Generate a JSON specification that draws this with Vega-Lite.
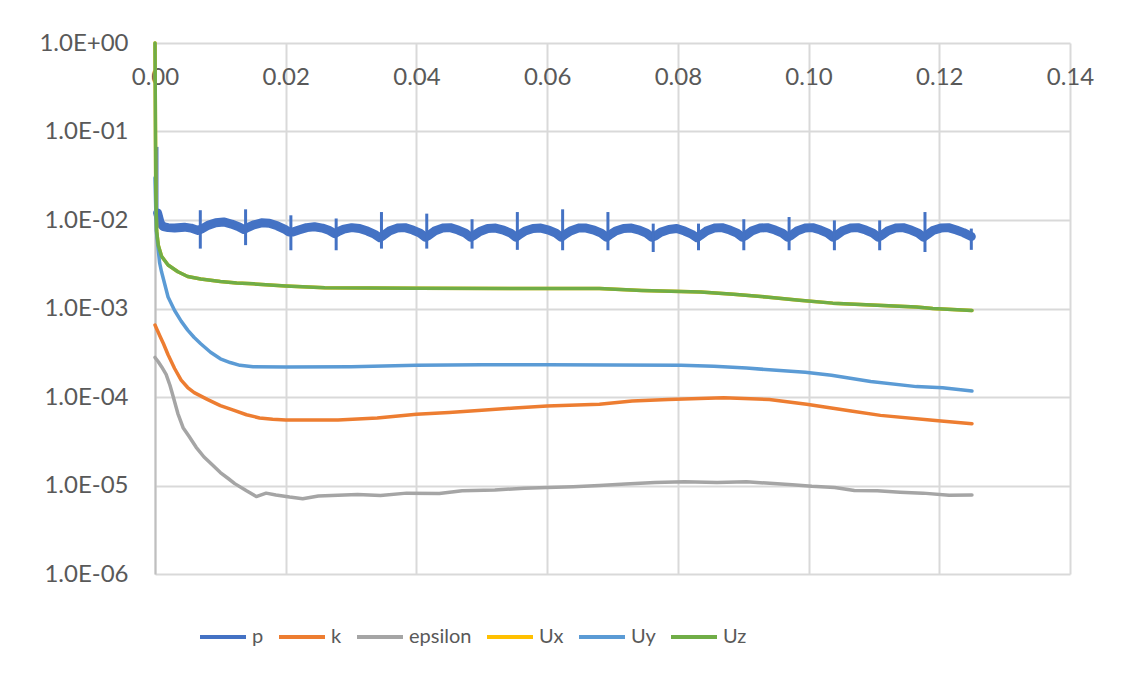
{
  "$schema": "https://vega.github.io/schema/vega-lite/v6.json",
  "width": 915,
  "height": 531,
  "autosize": {"type": "none"},
  "padding": {"left": 155, "top": 43, "right": 58, "bottom": 103},
  "background": "white",
  "config": {
    "view": {"stroke": null},
    "font": "Lato",
    "axis": {"gridColor": "#D9D9D9", "gridWidth": 2, "labelColor": "#595959", "labelFontSize": 24, "labelFont": "Lato"}
  },
  "datasets": {
    "pspikes": [
      {"s": "p", "t": 0.0003, "v": 0.067, "v2": 0.0095},
      {"s": "p", "t": 0.00693, "v": 0.0129, "v2": 0.00475},
      {"s": "p", "t": 0.01386, "v": 0.0132, "v2": 0.0052},
      {"s": "p", "t": 0.02079, "v": 0.0113, "v2": 0.00455},
      {"s": "p", "t": 0.02772, "v": 0.0104, "v2": 0.00455},
      {"s": "p", "t": 0.03465, "v": 0.0123, "v2": 0.00475},
      {"s": "p", "t": 0.04158, "v": 0.0118, "v2": 0.00475},
      {"s": "p", "t": 0.04851, "v": 0.0102, "v2": 0.00475},
      {"s": "p", "t": 0.05544, "v": 0.0123, "v2": 0.0046},
      {"s": "p", "t": 0.06237, "v": 0.0132, "v2": 0.00455},
      {"s": "p", "t": 0.0693, "v": 0.0123, "v2": 0.00455},
      {"s": "p", "t": 0.07623, "v": 0.0091, "v2": 0.00435},
      {"s": "p", "t": 0.08316, "v": 0.0091, "v2": 0.00455},
      {"s": "p", "t": 0.09009, "v": 0.0102, "v2": 0.00455},
      {"s": "p", "t": 0.09702, "v": 0.0108, "v2": 0.00455},
      {"s": "p", "t": 0.10395, "v": 0.0099, "v2": 0.00455},
      {"s": "p", "t": 0.11088, "v": 0.0099, "v2": 0.00455},
      {"s": "p", "t": 0.11781, "v": 0.0123, "v2": 0.00435},
      {"s": "p", "t": 0.1249, "v": 0.008, "v2": 0.0046}
    ],
    "pband": [
      {"s": "p", "t": 0.0004, "v": 0.012},
      {"s": "p", "t": 0.0008, "v": 0.0092},
      {"s": "p", "t": 0.0013, "v": 0.0084},
      {"s": "p", "t": 0.002, "v": 0.0082},
      {"s": "p", "t": 0.003, "v": 0.0081},
      {"s": "p", "t": 0.0045, "v": 0.0083},
      {"s": "p", "t": 0.0055, "v": 0.0081},
      {"s": "p", "t": 0.0066, "v": 0.0076},
      {"s": "p", "t": 0.00723, "v": 0.008},
      {"s": "p", "t": 0.0081, "v": 0.0087},
      {"s": "p", "t": 0.0093, "v": 0.0093},
      {"s": "p", "t": 0.0105, "v": 0.0095},
      {"s": "p", "t": 0.0117, "v": 0.009},
      {"s": "p", "t": 0.0128, "v": 0.0084},
      {"s": "p", "t": 0.0136, "v": 0.0078},
      {"s": "p", "t": 0.01416, "v": 0.0082},
      {"s": "p", "t": 0.0151, "v": 0.0088},
      {"s": "p", "t": 0.0163, "v": 0.0093},
      {"s": "p", "t": 0.0175, "v": 0.0092},
      {"s": "p", "t": 0.0187, "v": 0.0086},
      {"s": "p", "t": 0.0198, "v": 0.0079},
      {"s": "p", "t": 0.0205, "v": 0.0073},
      {"s": "p", "t": 0.02109, "v": 0.0073},
      {"s": "p", "t": 0.022, "v": 0.0077},
      {"s": "p", "t": 0.0232, "v": 0.0082},
      {"s": "p", "t": 0.0244, "v": 0.0084},
      {"s": "p", "t": 0.0256, "v": 0.0081},
      {"s": "p", "t": 0.0267, "v": 0.0076},
      {"s": "p", "t": 0.0275, "v": 0.007},
      {"s": "p", "t": 0.02802, "v": 0.0074},
      {"s": "p", "t": 0.0289, "v": 0.0079},
      {"s": "p", "t": 0.0301, "v": 0.0082},
      {"s": "p", "t": 0.0313, "v": 0.008},
      {"s": "p", "t": 0.0325, "v": 0.0075},
      {"s": "p", "t": 0.0336, "v": 0.0069},
      {"s": "p", "t": 0.0344, "v": 0.0063},
      {"s": "p", "t": 0.03495, "v": 0.0067},
      {"s": "p", "t": 0.03585, "v": 0.0075},
      {"s": "p", "t": 0.03705, "v": 0.0081},
      {"s": "p", "t": 0.03825, "v": 0.0082},
      {"s": "p", "t": 0.03945, "v": 0.0077},
      {"s": "p", "t": 0.04055, "v": 0.0071},
      {"s": "p", "t": 0.04135, "v": 0.0064},
      {"s": "p", "t": 0.04188, "v": 0.0067},
      {"s": "p", "t": 0.04278, "v": 0.0075},
      {"s": "p", "t": 0.04398, "v": 0.0081},
      {"s": "p", "t": 0.04518, "v": 0.0082},
      {"s": "p", "t": 0.04638, "v": 0.0077},
      {"s": "p", "t": 0.04748, "v": 0.0071},
      {"s": "p", "t": 0.04828, "v": 0.0064},
      {"s": "p", "t": 0.04881, "v": 0.0067},
      {"s": "p", "t": 0.04971, "v": 0.0074},
      {"s": "p", "t": 0.05091, "v": 0.008},
      {"s": "p", "t": 0.05211, "v": 0.0081},
      {"s": "p", "t": 0.05331, "v": 0.0077},
      {"s": "p", "t": 0.05441, "v": 0.0071},
      {"s": "p", "t": 0.05521, "v": 0.0064},
      {"s": "p", "t": 0.05574, "v": 0.0068},
      {"s": "p", "t": 0.05664, "v": 0.0075},
      {"s": "p", "t": 0.05784, "v": 0.008},
      {"s": "p", "t": 0.05904, "v": 0.0081},
      {"s": "p", "t": 0.06024, "v": 0.0077},
      {"s": "p", "t": 0.06134, "v": 0.0071},
      {"s": "p", "t": 0.06214, "v": 0.0064},
      {"s": "p", "t": 0.06267, "v": 0.0068},
      {"s": "p", "t": 0.06357, "v": 0.0075},
      {"s": "p", "t": 0.06477, "v": 0.0081},
      {"s": "p", "t": 0.06597, "v": 0.0081},
      {"s": "p", "t": 0.06717, "v": 0.0077},
      {"s": "p", "t": 0.06827, "v": 0.0071},
      {"s": "p", "t": 0.06907, "v": 0.0064},
      {"s": "p", "t": 0.0696, "v": 0.0068},
      {"s": "p", "t": 0.0705, "v": 0.0075},
      {"s": "p", "t": 0.0717, "v": 0.008},
      {"s": "p", "t": 0.0729, "v": 0.0081},
      {"s": "p", "t": 0.0741, "v": 0.0077},
      {"s": "p", "t": 0.0752, "v": 0.0071},
      {"s": "p", "t": 0.076, "v": 0.0064},
      {"s": "p", "t": 0.07653, "v": 0.0066},
      {"s": "p", "t": 0.07743, "v": 0.0073},
      {"s": "p", "t": 0.07863, "v": 0.0078},
      {"s": "p", "t": 0.07983, "v": 0.008},
      {"s": "p", "t": 0.08103, "v": 0.0075},
      {"s": "p", "t": 0.08213, "v": 0.0069},
      {"s": "p", "t": 0.08293, "v": 0.0063},
      {"s": "p", "t": 0.08346, "v": 0.0067},
      {"s": "p", "t": 0.08436, "v": 0.0075},
      {"s": "p", "t": 0.08556, "v": 0.0081},
      {"s": "p", "t": 0.08676, "v": 0.0082},
      {"s": "p", "t": 0.08796, "v": 0.0077},
      {"s": "p", "t": 0.08906, "v": 0.0071},
      {"s": "p", "t": 0.08986, "v": 0.0064},
      {"s": "p", "t": 0.09039, "v": 0.0067},
      {"s": "p", "t": 0.09129, "v": 0.0075},
      {"s": "p", "t": 0.09249, "v": 0.0081},
      {"s": "p", "t": 0.09369, "v": 0.0082},
      {"s": "p", "t": 0.09489, "v": 0.0077},
      {"s": "p", "t": 0.09599, "v": 0.0071},
      {"s": "p", "t": 0.09679, "v": 0.0064},
      {"s": "p", "t": 0.09732, "v": 0.0067},
      {"s": "p", "t": 0.09822, "v": 0.0075},
      {"s": "p", "t": 0.09942, "v": 0.0081},
      {"s": "p", "t": 0.10062, "v": 0.0082},
      {"s": "p", "t": 0.10182, "v": 0.0077},
      {"s": "p", "t": 0.10292, "v": 0.0071},
      {"s": "p", "t": 0.10372, "v": 0.0064},
      {"s": "p", "t": 0.10425, "v": 0.0067},
      {"s": "p", "t": 0.10515, "v": 0.0075},
      {"s": "p", "t": 0.10635, "v": 0.0081},
      {"s": "p", "t": 0.10755, "v": 0.0082},
      {"s": "p", "t": 0.10875, "v": 0.0077},
      {"s": "p", "t": 0.10985, "v": 0.0071},
      {"s": "p", "t": 0.11065, "v": 0.0064},
      {"s": "p", "t": 0.11118, "v": 0.0067},
      {"s": "p", "t": 0.11208, "v": 0.0075},
      {"s": "p", "t": 0.11328, "v": 0.0081},
      {"s": "p", "t": 0.11448, "v": 0.0082},
      {"s": "p", "t": 0.11568, "v": 0.0077},
      {"s": "p", "t": 0.11678, "v": 0.0071},
      {"s": "p", "t": 0.11758, "v": 0.0064},
      {"s": "p", "t": 0.11811, "v": 0.0068},
      {"s": "p", "t": 0.11901, "v": 0.0076},
      {"s": "p", "t": 0.12021, "v": 0.0081},
      {"s": "p", "t": 0.12141, "v": 0.0082},
      {"s": "p", "t": 0.12261, "v": 0.0077},
      {"s": "p", "t": 0.1237, "v": 0.0072},
      {"s": "p", "t": 0.1249, "v": 0.0065}
    ],
    "lines": [
      {"s": "k", "t": 0, "v": 0.00065},
      {"s": "k", "t": 0.0003, "v": 0.00058},
      {"s": "k", "t": 0.0008, "v": 0.00048},
      {"s": "k", "t": 0.0013, "v": 0.0004},
      {"s": "k", "t": 0.002, "v": 0.0003},
      {"s": "k", "t": 0.003, "v": 0.00021},
      {"s": "k", "t": 0.004, "v": 0.000155},
      {"s": "k", "t": 0.005, "v": 0.000128},
      {"s": "k", "t": 0.006, "v": 0.000112},
      {"s": "k", "t": 0.008, "v": 0.000094},
      {"s": "k", "t": 0.01, "v": 0.00008},
      {"s": "k", "t": 0.012, "v": 0.000071},
      {"s": "k", "t": 0.014, "v": 0.000063},
      {"s": "k", "t": 0.016, "v": 0.000058},
      {"s": "k", "t": 0.018, "v": 0.000056},
      {"s": "k", "t": 0.02, "v": 0.000055},
      {"s": "k", "t": 0.028, "v": 0.000055},
      {"s": "k", "t": 0.034, "v": 0.000058},
      {"s": "k", "t": 0.04, "v": 0.000064},
      {"s": "k", "t": 0.045, "v": 0.000067},
      {"s": "k", "t": 0.05, "v": 0.000071},
      {"s": "k", "t": 0.055, "v": 0.000075},
      {"s": "k", "t": 0.06, "v": 0.000079},
      {"s": "k", "t": 0.068, "v": 0.000083},
      {"s": "k", "t": 0.073, "v": 0.00009},
      {"s": "k", "t": 0.0785, "v": 0.000094},
      {"s": "k", "t": 0.087, "v": 0.000098},
      {"s": "k", "t": 0.094, "v": 0.0000935},
      {"s": "k", "t": 0.0997, "v": 0.000083},
      {"s": "k", "t": 0.1065, "v": 0.0000695},
      {"s": "k", "t": 0.111, "v": 0.000062},
      {"s": "k", "t": 0.119, "v": 0.0000545},
      {"s": "k", "t": 0.125, "v": 0.00005},
      {"s": "epsilon", "t": 0, "v": 0.00028},
      {"s": "epsilon", "t": 0.0005, "v": 0.00025},
      {"s": "epsilon", "t": 0.001, "v": 0.00022},
      {"s": "epsilon", "t": 0.0017, "v": 0.00018},
      {"s": "epsilon", "t": 0.0023, "v": 0.000135},
      {"s": "epsilon", "t": 0.0028, "v": 0.0001},
      {"s": "epsilon", "t": 0.0035, "v": 0.000065},
      {"s": "epsilon", "t": 0.0043, "v": 0.000045},
      {"s": "epsilon", "t": 0.0052, "v": 0.000036},
      {"s": "epsilon", "t": 0.0063, "v": 0.000027},
      {"s": "epsilon", "t": 0.0075, "v": 0.000021},
      {"s": "epsilon", "t": 0.0088, "v": 0.000017},
      {"s": "epsilon", "t": 0.01, "v": 0.000014},
      {"s": "epsilon", "t": 0.0112, "v": 0.000012},
      {"s": "epsilon", "t": 0.0122, "v": 0.0000105},
      {"s": "epsilon", "t": 0.014, "v": 0.0000087},
      {"s": "epsilon", "t": 0.0155, "v": 0.0000075},
      {"s": "epsilon", "t": 0.017, "v": 0.0000082},
      {"s": "epsilon", "t": 0.0185, "v": 0.0000078},
      {"s": "epsilon", "t": 0.0206, "v": 0.0000074},
      {"s": "epsilon", "t": 0.0226, "v": 0.0000071},
      {"s": "epsilon", "t": 0.025, "v": 0.0000076},
      {"s": "epsilon", "t": 0.028, "v": 0.00000775},
      {"s": "epsilon", "t": 0.031, "v": 0.0000079},
      {"s": "epsilon", "t": 0.0345, "v": 0.0000077},
      {"s": "epsilon", "t": 0.0385, "v": 0.0000082},
      {"s": "epsilon", "t": 0.0435, "v": 0.0000081},
      {"s": "epsilon", "t": 0.047, "v": 0.0000087},
      {"s": "epsilon", "t": 0.052, "v": 0.0000089},
      {"s": "epsilon", "t": 0.0565, "v": 0.0000093},
      {"s": "epsilon", "t": 0.06, "v": 0.0000095},
      {"s": "epsilon", "t": 0.064, "v": 0.0000097},
      {"s": "epsilon", "t": 0.068, "v": 0.00001},
      {"s": "epsilon", "t": 0.072, "v": 0.0000104},
      {"s": "epsilon", "t": 0.0765, "v": 0.0000108},
      {"s": "epsilon", "t": 0.081, "v": 0.000011},
      {"s": "epsilon", "t": 0.086, "v": 0.0000108},
      {"s": "epsilon", "t": 0.0905, "v": 0.000011},
      {"s": "epsilon", "t": 0.0935, "v": 0.00001065},
      {"s": "epsilon", "t": 0.0975, "v": 0.0000102},
      {"s": "epsilon", "t": 0.1005, "v": 0.0000098},
      {"s": "epsilon", "t": 0.104, "v": 0.0000095},
      {"s": "epsilon", "t": 0.107, "v": 0.0000088},
      {"s": "epsilon", "t": 0.1105, "v": 0.0000087},
      {"s": "epsilon", "t": 0.114, "v": 0.0000084},
      {"s": "epsilon", "t": 0.1175, "v": 0.0000082},
      {"s": "epsilon", "t": 0.1215, "v": 0.00000775},
      {"s": "epsilon", "t": 0.125, "v": 0.0000078},
      {"s": "Ux", "t": 0, "v": 1},
      {"s": "Ux", "t": 0.00012, "v": 0.02},
      {"s": "Ux", "t": 0.00025, "v": 0.0075},
      {"s": "Ux", "t": 0.0005, "v": 0.0052},
      {"s": "Ux", "t": 0.001, "v": 0.0039},
      {"s": "Ux", "t": 0.002, "v": 0.0031},
      {"s": "Ux", "t": 0.0035, "v": 0.0026},
      {"s": "Ux", "t": 0.005, "v": 0.0023},
      {"s": "Ux", "t": 0.007, "v": 0.00215},
      {"s": "Ux", "t": 0.01, "v": 0.00202},
      {"s": "Ux", "t": 0.0125, "v": 0.00194},
      {"s": "Ux", "t": 0.015, "v": 0.0019},
      {"s": "Ux", "t": 0.02, "v": 0.0018},
      {"s": "Ux", "t": 0.026, "v": 0.00172},
      {"s": "Ux", "t": 0.04, "v": 0.00169},
      {"s": "Ux", "t": 0.06, "v": 0.00168},
      {"s": "Ux", "t": 0.068, "v": 0.00168},
      {"s": "Ux", "t": 0.0745, "v": 0.0016},
      {"s": "Ux", "t": 0.0835, "v": 0.00154},
      {"s": "Ux", "t": 0.0885, "v": 0.00145},
      {"s": "Ux", "t": 0.0935, "v": 0.00135},
      {"s": "Ux", "t": 0.0986, "v": 0.00124},
      {"s": "Ux", "t": 0.1037, "v": 0.00115},
      {"s": "Ux", "t": 0.1105, "v": 0.00109},
      {"s": "Ux", "t": 0.1165, "v": 0.00104},
      {"s": "Ux", "t": 0.119, "v": 0.001},
      {"s": "Ux", "t": 0.125, "v": 0.00095},
      {"s": "Uy", "t": 0, "v": 0.03},
      {"s": "Uy", "t": 0.0002, "v": 0.0075},
      {"s": "Uy", "t": 0.0007, "v": 0.0033},
      {"s": "Uy", "t": 0.001, "v": 0.0026},
      {"s": "Uy", "t": 0.002, "v": 0.00135},
      {"s": "Uy", "t": 0.003, "v": 0.00095},
      {"s": "Uy", "t": 0.004, "v": 0.00072},
      {"s": "Uy", "t": 0.005, "v": 0.00057},
      {"s": "Uy", "t": 0.006, "v": 0.00047},
      {"s": "Uy", "t": 0.007, "v": 0.0004},
      {"s": "Uy", "t": 0.0085, "v": 0.00032},
      {"s": "Uy", "t": 0.01, "v": 0.00027},
      {"s": "Uy", "t": 0.0115, "v": 0.000245},
      {"s": "Uy", "t": 0.013, "v": 0.000228},
      {"s": "Uy", "t": 0.015, "v": 0.00022},
      {"s": "Uy", "t": 0.02, "v": 0.000218},
      {"s": "Uy", "t": 0.03, "v": 0.00022},
      {"s": "Uy", "t": 0.04, "v": 0.000228},
      {"s": "Uy", "t": 0.05, "v": 0.000232},
      {"s": "Uy", "t": 0.06, "v": 0.000232},
      {"s": "Uy", "t": 0.07, "v": 0.00023},
      {"s": "Uy", "t": 0.0805, "v": 0.000228},
      {"s": "Uy", "t": 0.0855, "v": 0.000222},
      {"s": "Uy", "t": 0.0905, "v": 0.000212},
      {"s": "Uy", "t": 0.0995, "v": 0.00019},
      {"s": "Uy", "t": 0.1035, "v": 0.000176},
      {"s": "Uy", "t": 0.1095, "v": 0.00015},
      {"s": "Uy", "t": 0.1165, "v": 0.000131},
      {"s": "Uy", "t": 0.1205, "v": 0.000127},
      {"s": "Uy", "t": 0.125, "v": 0.000117},
      {"s": "Uz", "t": 0, "v": 1},
      {"s": "Uz", "t": 0.00012, "v": 0.02},
      {"s": "Uz", "t": 0.00025, "v": 0.0075},
      {"s": "Uz", "t": 0.0005, "v": 0.0052},
      {"s": "Uz", "t": 0.001, "v": 0.0039},
      {"s": "Uz", "t": 0.002, "v": 0.0031},
      {"s": "Uz", "t": 0.0035, "v": 0.0026},
      {"s": "Uz", "t": 0.005, "v": 0.0023},
      {"s": "Uz", "t": 0.007, "v": 0.00215},
      {"s": "Uz", "t": 0.01, "v": 0.00202},
      {"s": "Uz", "t": 0.0125, "v": 0.00194},
      {"s": "Uz", "t": 0.015, "v": 0.0019},
      {"s": "Uz", "t": 0.02, "v": 0.0018},
      {"s": "Uz", "t": 0.026, "v": 0.00172},
      {"s": "Uz", "t": 0.04, "v": 0.00169},
      {"s": "Uz", "t": 0.06, "v": 0.00168},
      {"s": "Uz", "t": 0.068, "v": 0.00168},
      {"s": "Uz", "t": 0.0745, "v": 0.0016},
      {"s": "Uz", "t": 0.0835, "v": 0.00154},
      {"s": "Uz", "t": 0.0885, "v": 0.00145},
      {"s": "Uz", "t": 0.0935, "v": 0.00135},
      {"s": "Uz", "t": 0.0986, "v": 0.00124},
      {"s": "Uz", "t": 0.1037, "v": 0.00115},
      {"s": "Uz", "t": 0.1105, "v": 0.00109},
      {"s": "Uz", "t": 0.1165, "v": 0.00104},
      {"s": "Uz", "t": 0.119, "v": 0.001},
      {"s": "Uz", "t": 0.125, "v": 0.00095}
    ]
  },
  "encoding": {
    "x": {
      "field": "t", "type": "quantitative",
      "scale": {"domain": [0, 0.14], "nice": false, "zero": false},
      "axis": {"values": [0, 0.02, 0.04, 0.06, 0.08, 0.1, 0.12, 0.14], "format": ".2f", "orient": "bottom", "offset": -531, "labelPadding": 22, "labelBaseline": "top", "domain": false, "ticks": false, "tickSize": 0, "title": null, "grid": true, "labelFlush": false, "labelOverlap": false}
    },
    "y": {
      "field": "v", "type": "quantitative",
      "scale": {"type": "log", "domain": [0.000001, 1]},
      "axis": {"values": [0.000001, 0.00001, 0.0001, 0.001, 0.01, 0.1, 1], "labelExpr": "datum.value >= 0.5 ? '1.0E+00' : '1.0E-0' + format(round(-log(datum.value)/LN10), 'd')", "title": null, "ticks": false, "tickSize": 0, "domain": true, "domainColor": "#BFBFBF", "domainWidth": 2, "labelPadding": 27, "grid": true, "labelFlush": false, "labelOverlap": false}
    },
    "color": {
      "field": "s", "type": "nominal",
      "scale": {"domain": ["p", "k", "epsilon", "Ux", "Uy", "Uz"], "range": ["#4472C4", "#ED7D31", "#A5A5A5", "#FFC000", "#5B9BD5", "#70AD47"]},
      "legend": {"orient": "none", "legendX": 43, "legendY": 569, "direction": "horizontal", "title": null, "symbolType": "stroke", "symbolSize": 2116, "symbolStrokeWidth": 4, "labelFontSize": 20, "labelColor": "#595959", "labelFont": "Lato", "columnPadding": 7, "labelOffset": 4}
    }
  },
  "layer": [
    {"data": {"name": "pband"}, "mark": {"type": "line", "strokeWidth": 9, "strokeJoin": "round", "strokeCap": "round"}},
    {"data": {"name": "pspikes"}, "mark": {"type": "rule", "strokeWidth": 3}, "encoding": {"y2": {"field": "v2"}}},
    {"data": {"name": "lines"}, "mark": {"type": "line", "strokeWidth": 3.5, "strokeJoin": "round", "strokeCap": "round"}}
  ]
}
